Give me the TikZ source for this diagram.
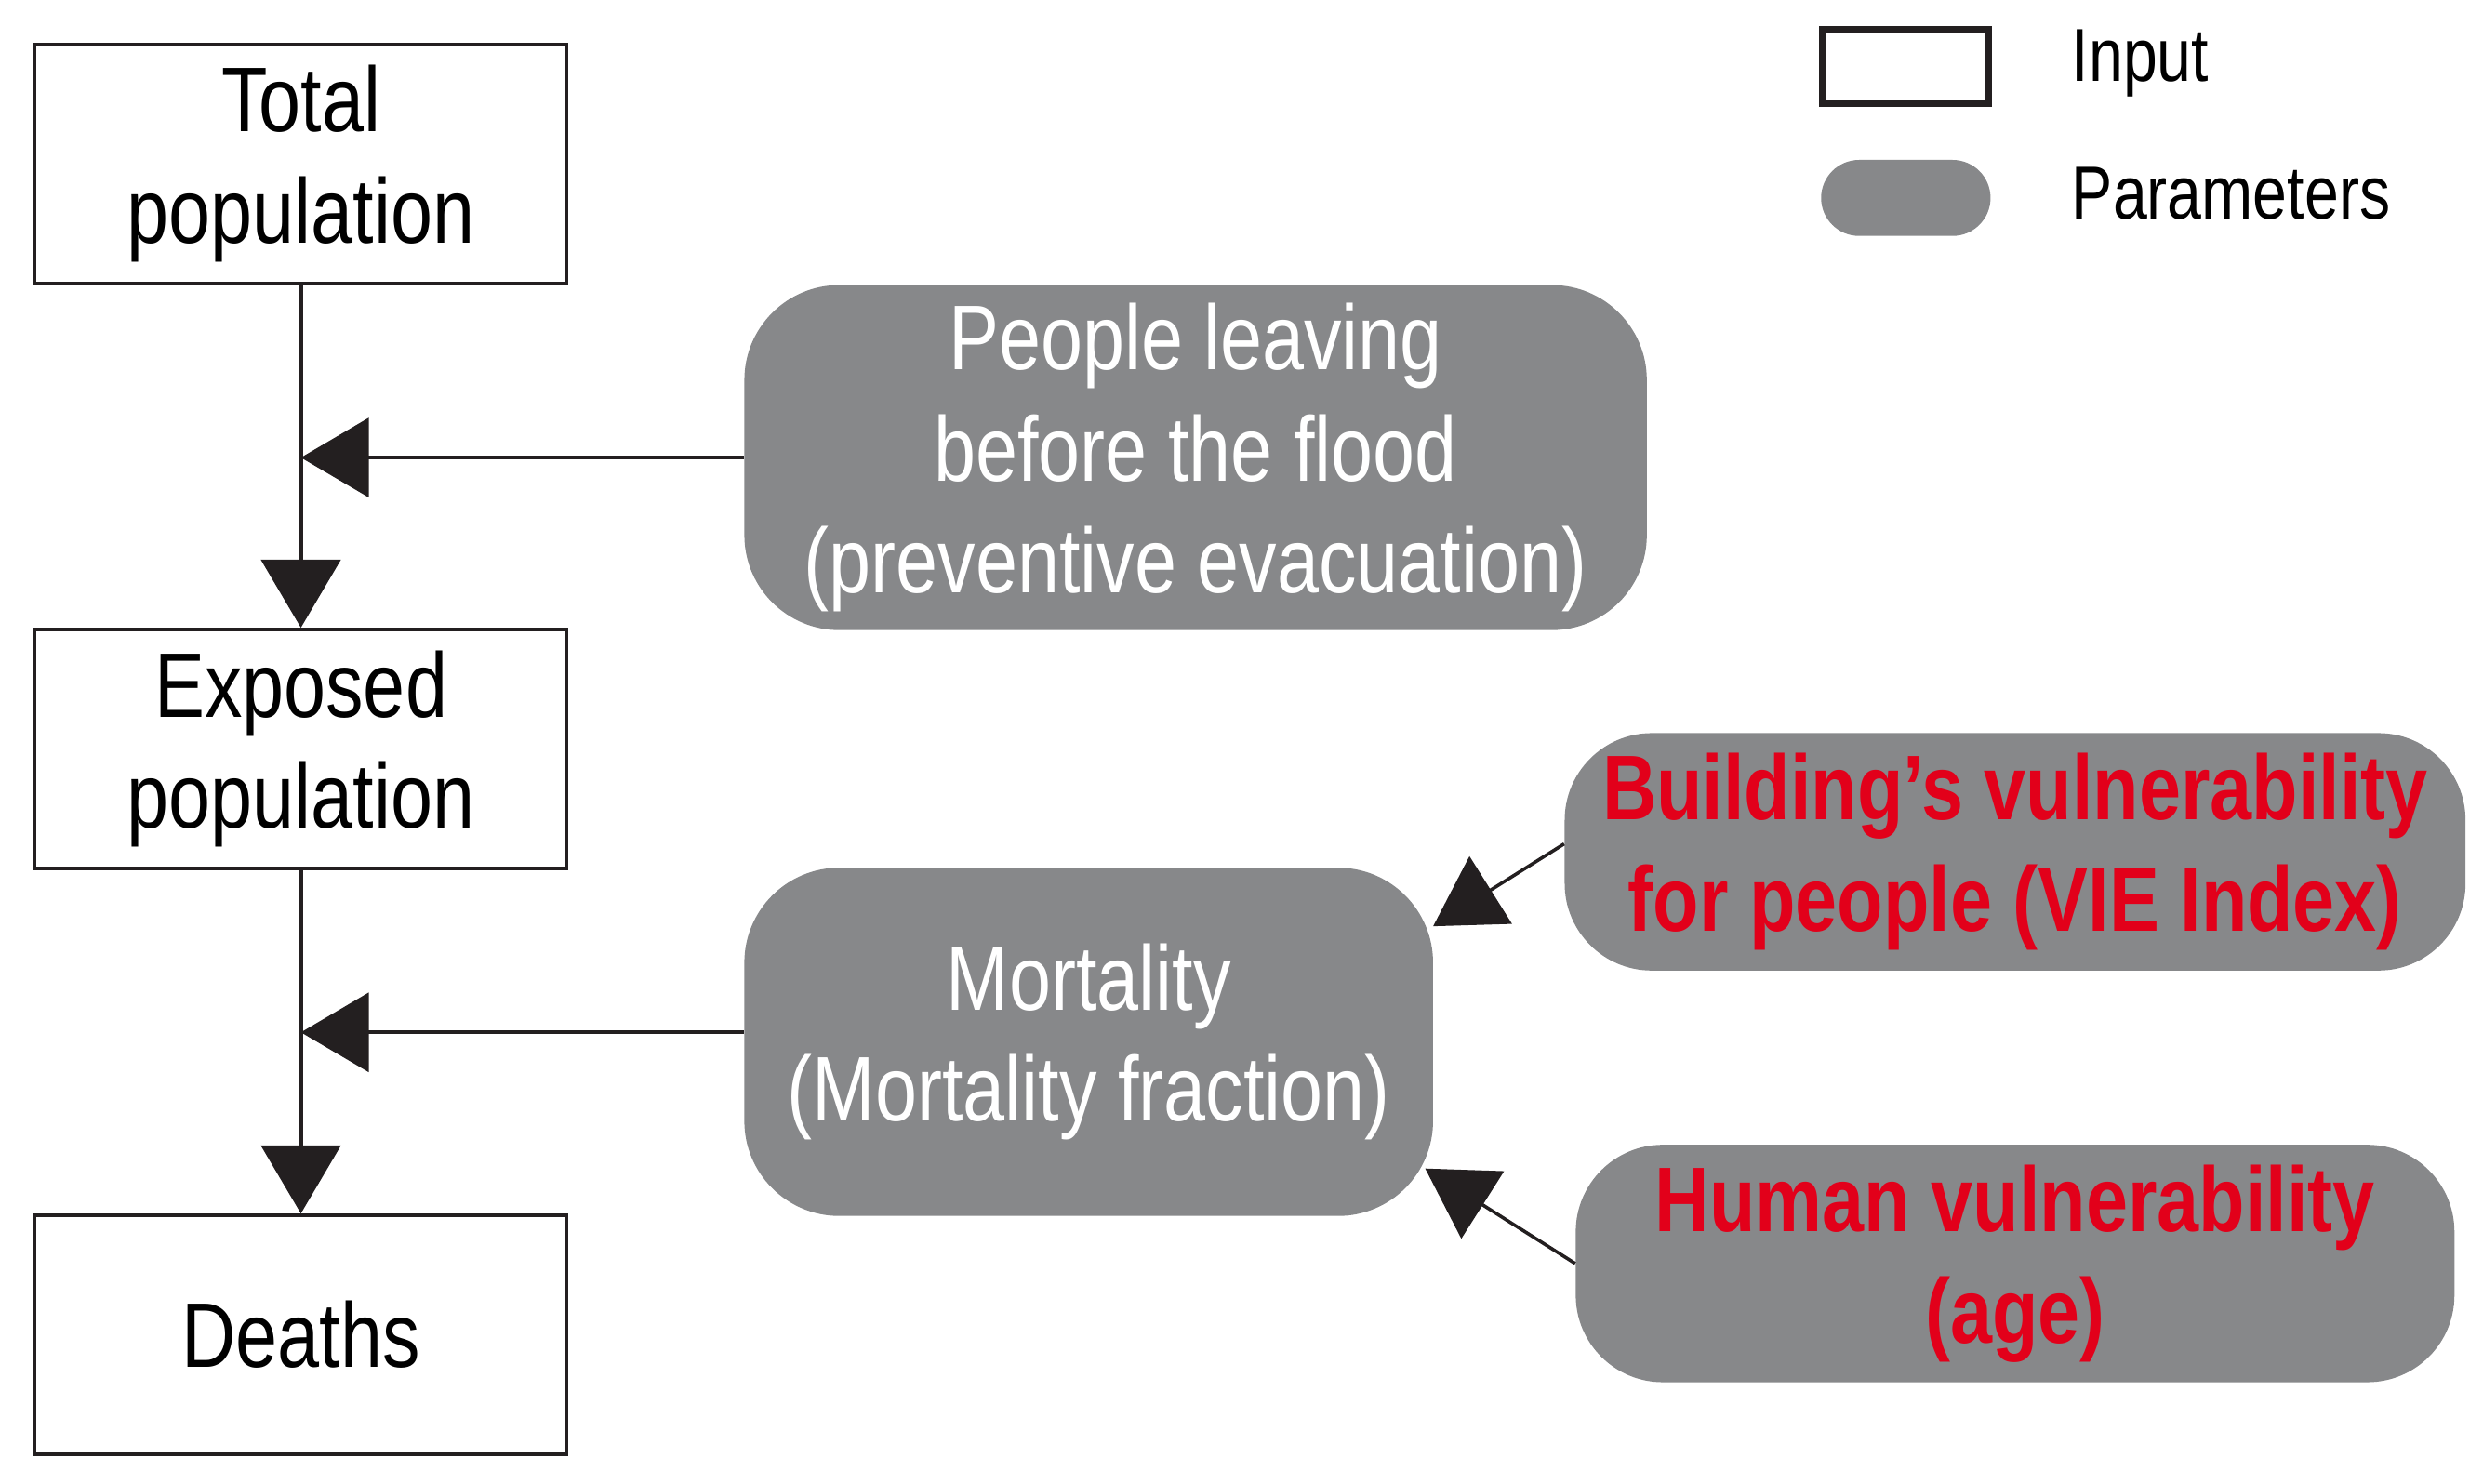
\documentclass[tikz,border=0pt]{standalone}
\usepackage{fontspec}
\setmainfont{Liberation Sans}[FakeStretch=0.82]
\usetikzlibrary{arrows.meta}
\definecolor{pgray}{RGB}{135,136,138}
\definecolor{pred}{RGB}{226,0,26}
\definecolor{ink}{RGB}{35,31,32}
\begin{document}
\begin{tikzpicture}[x=0.02cm,y=-0.02cm,
  inbox/.style={draw=ink, line width=1.2pt, fill=white, minimum width=6.72cm, minimum height=3.02cm, align=center, inner sep=0pt, font=\fontsize{33}{40}\selectfont},
  param/.style={fill=pgray, rounded corners=1.2cm, align=center, inner sep=0pt, font=\fontsize{33}{40}\selectfont, text=white},
  redtxt/.style={text=pred, font=\fontsize{33}{40}\selectfont\bfseries},
  legtxt/.style={anchor=west, inner sep=0pt, font=\fontsize{27}{32}\selectfont},
  arr/.style={draw=ink, line width=1.2pt, -{Triangle[length=0.86cm,width=1.0cm]}},
]
\useasboundingbox (0,0) rectangle (1568,937);
% input boxes
\node[inbox] (total) at (190,103.5) {Total\\population};
\node[inbox] (exposed) at (190,473) {Exposed\\population};
\node[inbox] (deaths) at (190,843) {Deaths};
% parameter boxes
\node[param, minimum width=11.4cm, minimum height=4.36cm] (people) at (755,289)
  {People leaving\\before the flood\\(preventive evacuation)};
\node[param, minimum width=8.7cm, minimum height=4.4cm] (mort) at (687.5,658)
  {Mortality\\(Mortality fraction)};
\node[param, redtxt, rounded corners=1.1cm, minimum width=11.38cm, minimum height=3.0cm] (build) at (1272.5,538)
  {Building’s vulnerability\\for people (VIE Index)};
\node[param, redtxt, rounded corners=1.1cm, minimum width=11.1cm, minimum height=3.0cm] (human) at (1272.5,798)
  {Human vulnerability\\(age)};
% legend
\node[draw=ink, line width=2.4pt, minimum width=2.1cm, minimum height=0.94cm, inner sep=0pt] (legin) at (1203.5,42) {};
\node[fill=pgray, rounded corners=0.48cm, minimum width=2.14cm, minimum height=0.96cm, inner sep=0pt] (legpar) at (1203.5,125) {};
\node[legtxt] (legintxt) at (1308,40) {Input};
\node[legtxt] (legpartxt) at (1308,122) {Parameters};
% connectors
\coordinate (m0) at ([yshift=0.12cm]mort.west);
\coordinate (b0) at ([yshift=0.1cm]build.west);
\coordinate (j1) at (people.west -| total.south);
\coordinate (j2) at (m0 -| exposed.south);
\coordinate (bt) at (905,585);
\coordinate (ht) at (900,738);
\draw[arr, line width=1.5pt] (total.south) -- (exposed.north);
\draw[arr, line width=1.5pt] (exposed.south) -- (deaths.north);
\draw[arr] (people.west) -- (j1);
\draw[arr] (m0) -- (j2);
\draw[arr] (b0) -- (bt);
\draw[arr] (human.west) -- (ht);
\end{tikzpicture}
\end{document}
